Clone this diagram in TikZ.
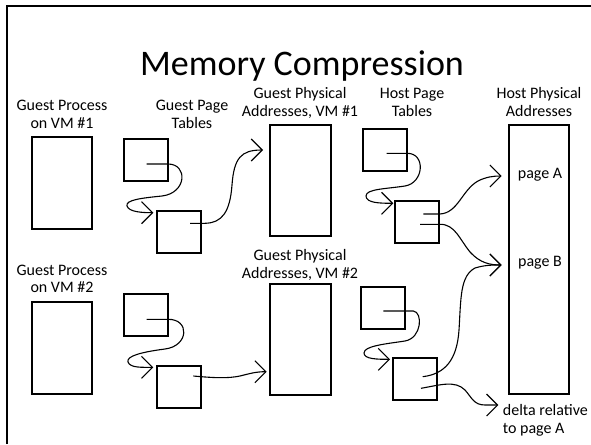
\documentclass[tikz,border=0pt]{standalone}
\usepackage{fontspec}
\setmainfont{Carlito}
\usetikzlibrary{arrows.meta}
\begin{document}
\begin{tikzpicture}[x=1pt,y=-1pt,
  box/.style={draw,line width=1.1pt,inner sep=0pt,outer sep=0pt},
  ptab/.style={box,minimum width=44pt,minimum height=42pt},
  lbl/.style={font=\fontsize{16}{18}\selectfont,inner sep=0pt,anchor=base},
  link/.style={line width=1.1pt,-{Straight Barb[length=11pt,width=22pt]}}
]
\useasboundingbox (0,0) rectangle (591,444);

% slide frame (runs off the right and bottom edges)
\draw[line width=2pt] (7,444) -- (7,6) -- (591,6);

% title
\node[font=\fontsize{36}{40}\selectfont,inner sep=0pt,anchor=base] (title) at (302,75) {Memory Compression};

% column headings
\node[lbl] (gp1a) at (62,110.7) {Guest Process};
\node[lbl] (gp1b) at (62,128.3) {on VM \#1};
\node[lbl] (gtha) at (192,110.7) {Guest Page};
\node[lbl] (gthb) at (192,128.3) {Tables};
\node[lbl] (ga1a) at (300,98) {Guest Physical};
\node[lbl] (ga1b) at (300,116) {Addresses, VM \#1};
\node[lbl] (htha) at (412,98) {Host Page};
\node[lbl] (hthb) at (412,116) {Tables};
\node[lbl] (hpha) at (539,98) {Host Physical};
\node[lbl] (hphb) at (539,116) {Addresses};
\node[lbl] (gp2a) at (62,275) {Guest Process};
\node[lbl] (gp2b) at (62,292.7) {on VM \#2};
\node[lbl] (ga2a) at (300,260) {Guest Physical};
\node[lbl] (ga2b) at (300,278) {Addresses, VM \#2};

% guest processes
\node[box,minimum width=60pt,minimum height=92pt] (gproc1) at (62,183) {};
\node[box,minimum width=60pt,minimum height=92pt] (gproc2) at (62,348) {};

% guest page tables
\node[ptab] (gpt1a) at (146,160) {};
\node[ptab] (gpt1b) at (179,232) {};
\node[ptab] (gpt2a) at (146,315) {};
\node[ptab] (gpt2b) at (179,387) {};

% guest physical address spaces
\node[box,minimum width=61pt,minimum height=111pt] (gpa1) at (300.5,180.5) {};
\node[box,minimum width=61pt,minimum height=111pt] (gpa2) at (300.5,339.5) {};

% host page tables
\node[ptab] (hpt1a) at (385,150) {};
\node[ptab] (hpt1b) at (417,222) {};
\node[ptab] (hpt2a) at (383,308) {};
\node[ptab] (hpt2b) at (415,379) {};

% host physical memory
\node[box,minimum width=60pt,minimum height=269pt] (hpa) at (539,259.5) {};
\node[lbl] (pga) at (540,178) {page A};
\node[lbl] (pgb) at (540,266.5) {page B};
\node[lbl,anchor=base west] (dlta) at (502.7,415) {delta relative};
\node[lbl,anchor=base west] (dltb) at (502.7,433) {to page A};

% entry points inside the tables and arrow targets
\coordinate (e1) at (146.7,164);
\coordinate (e2) at (190,223.3);
\coordinate (e3) at (146.7,319.3);
\coordinate (e4) at (193.3,376);
\coordinate (e5) at (386.7,153.3);
\coordinate (e6) at (423.3,214);
\coordinate (e7) at (420,224.3);
\coordinate (e8) at (383.3,311);
\coordinate (e9) at (422.7,376.7);
\coordinate (e10) at (421,388.3);
\coordinate (t1) at (153.3,212.7);
\coordinate (t2) at (263,150);
\coordinate (t3) at (153.3,367.3);
\coordinate (t4) at (266.7,371.7);
\coordinate (t5) at (393.3,203.3);
\coordinate (pageAin) at (501.7,176);
\coordinate (pageBin) at (501.7,265);
\coordinate (t8) at (390,359.3);
\coordinate (deltain) at (498.3,405);

% VM #1 guest translation
\draw[link] (e1) -- (168,164) .. controls (188,164) and (187,193) .. (162,196)
  .. controls (142,198) and (125,200) .. (127,206)
  .. controls (129,212) and (142,212.7) .. (t1);
\draw[link] (e2) -- (205,223.3) .. controls (222,223) and (230,212) .. (232,185)
  .. controls (234,158) and (241,150) .. (t2);

% VM #2 guest translation
\draw[link] (e3) -- (168,319.3) .. controls (190,319) and (189,346) .. (165,349)
  .. controls (142,352) and (126,356) .. (128,362)
  .. controls (130,368) and (142,367.3) .. (t3);
\draw[link] (e4) .. controls (215,378) and (228,378.5) .. (240,376)
  .. controls (250,373.5) and (256,371.7) .. (t4);

% VM #1 host translation
\draw[link] (e5) -- (407,153.3) .. controls (426,153) and (424,183) .. (405,186)
  .. controls (385,189) and (366,189) .. (366,196)
  .. controls (366,203) and (380,203.3) .. (t5);
\draw[link] (e6) -- (440,214) .. controls (458,213) and (462,190) .. (478,181)
  .. controls (486,177) and (493,176) .. (pageAin);
\draw[link] (e7) -- (440,224.3) .. controls (455,224) and (460,240) .. (470,252)
  .. controls (480,263) and (490,265) .. (pageBin);

% VM #2 host translation
\draw[link] (e8) -- (413.3,311) .. controls (423,312) and (422,338) .. (405,341)
  .. controls (385,344) and (364,346) .. (364,353)
  .. controls (364,359.3) and (378,359.3) .. (t8);
\draw[link] (e9) .. controls (445,374) and (457,360) .. (459,330)
  .. controls (461,298) and (460,276) .. (475,268)
  .. controls (485,265) and (492,265) .. (pageBin);
\draw[link] (e10) .. controls (440,385) and (455,380) .. (465,390)
  .. controls (472,398) and (474,405) .. (485,405) -- (deltain);
\end{tikzpicture}
\end{document}
